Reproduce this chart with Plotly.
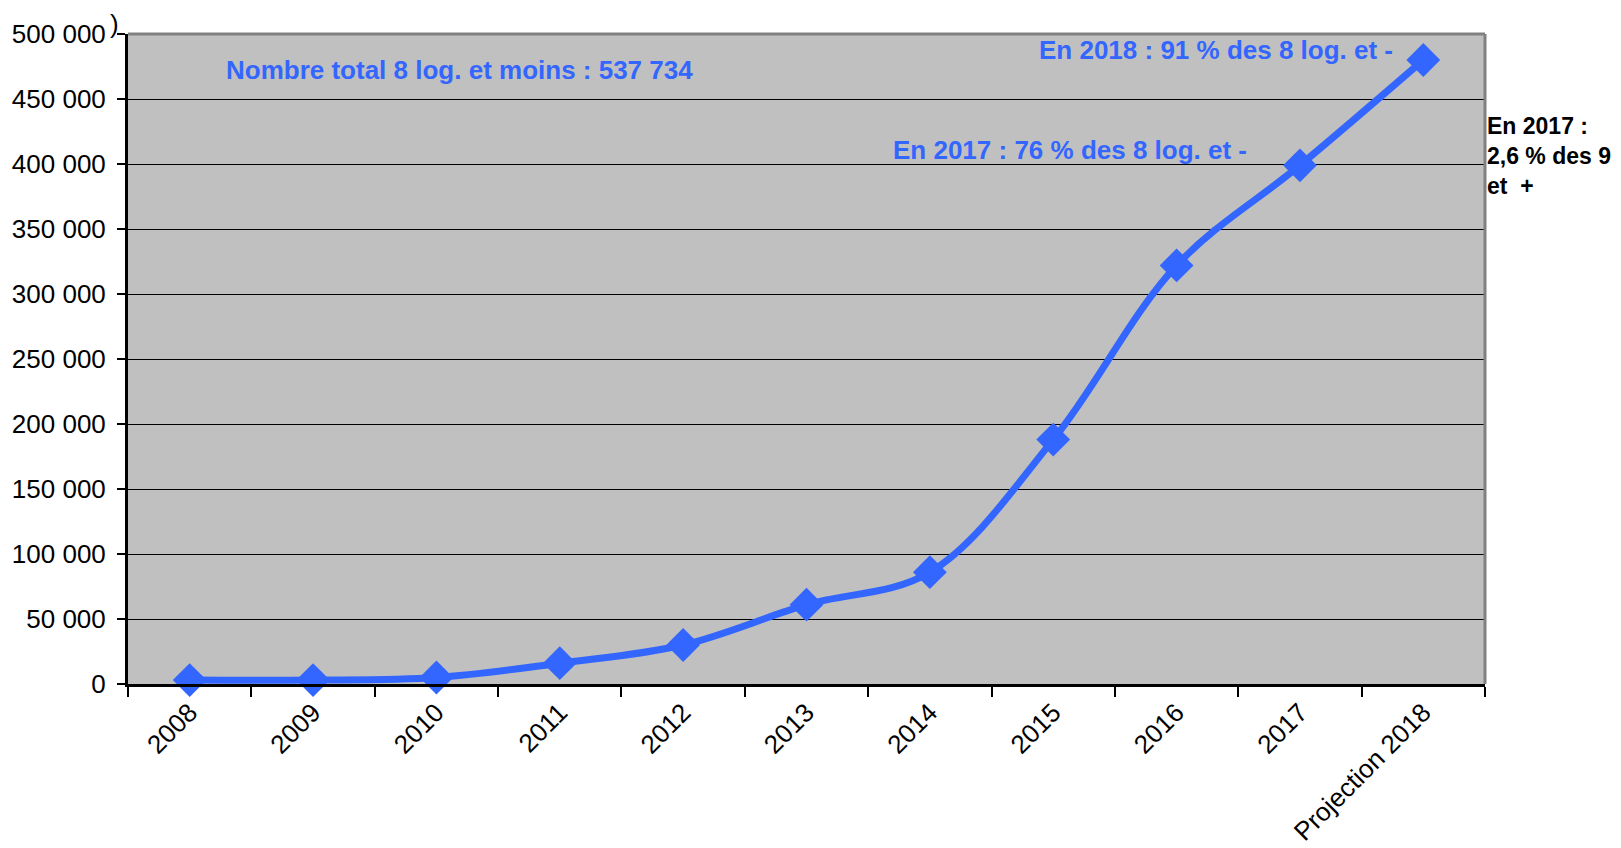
import plotly.graph_objects as go

years  = ['2008', '2009', '2010', '2011', '2012', '2013', '2014', '2015', '2016', '2017', 'Projection 2018']
totals = [3000, 3000, 5000, 16000, 30000, 61000, 86000, 188000, 322000, 399000, 480000]

blue = '#3366FF'
font_family = 'Liberation Sans, Arial, sans-serif'

fig = go.Figure(
    data = go.Scatter(
        x      = years,
        y      = totals,
        mode   = 'lines+markers',
        line   = dict(color=blue, width=7, shape='spline', smoothing=1),
        marker = dict(symbol='diamond', size=26, color=blue),
        showlegend = False,
        cliponaxis = False
    )
)

# the page body adds an 8px offset, so the figure is a bit smaller than the window
fig.update_layout(
    width         = 1613,
    height        = 840,
    margin        = dict(l=120, r=136, t=26, b=164),
    paper_bgcolor = 'white',
    plot_bgcolor  = '#C0C0C0',
    separators    = ', ',
    font          = dict(family=font_family, size=26, color='black'),
)

fig.update_xaxes(
    type       = 'category',
    range      = [-0.5, len(years) - 0.5],
    tickson    = 'boundaries',
    ticks      = 'outside',
    ticklen    = 10,
    tickwidth  = 2,
    tickcolor  = 'black',
    tickangle  = -45,
    showline   = True,
    linecolor  = 'black',
    linewidth  = 3,
    showgrid   = False,
    automargin = False,
    tickfont   = dict(size=26),
)

fig.update_yaxes(
    range      = [0, 500000],
    dtick      = 50000,
    tickformat = ',d',
    ticks      = 'outside',
    ticklen    = 8,
    tickwidth  = 2,
    tickcolor  = 'black',
    ticklabelstandoff = 6,
    showline   = True,
    linecolor  = 'black',
    linewidth  = 3,
    gridcolor  = 'black',
    gridwidth  = 1,
    zeroline   = False,
    automargin = False,
    tickfont   = dict(size=26),
)

# grey top / right border of the plot area
fig.add_shape(type='line', xref='paper', yref='paper', x0=0, x1=1, y0=1, y1=1,
              line=dict(color='#808080', width=3))
fig.add_shape(type='line', xref='paper', yref='paper', x0=1, x1=1, y0=0, y1=1,
              line=dict(color='#808080', width=3))

notes = [
    ('Nombre total 8 log. et moins : 537 734', 0.071, 0.945),
    ('En 2018 : 91 % des 8 log. et -',        0.670, 0.975),
    ('En 2017 : 76 % des 8 log. et -',        0.562, 0.822),
]
for text, x, y in notes:
    fig.add_annotation(
        text = f'<b>{text}</b>', xref='paper', yref='paper', x=x, y=y,
        xanchor='left', yanchor='middle', showarrow=False,
        font=dict(color=blue, size=26)
    )

fig.add_annotation(
    text = '<b>En 2017 :<br>2,6 % des 9<br>et  +</b>',
    xref='paper', yref='paper', x=1.0, y=0.882,
    xanchor='left', yanchor='top', align='left', showarrow=False,
    font=dict(color='black', size=23)
)

fig.add_annotation(
    text = ')', xref='paper', yref='paper', x=-0.015, y=0.99,
    xanchor='left', yanchor='bottom', showarrow=False,
    font=dict(color='black', size=26)
)

fig.write_html('out.html')
